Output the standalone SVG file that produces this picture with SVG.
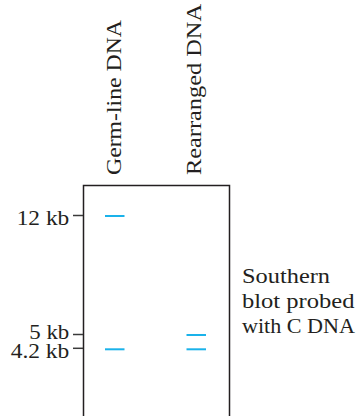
<svg xmlns="http://www.w3.org/2000/svg" width="361" height="416" viewBox="0 0 361 416">
<style>
text{font-family:"Liberation Serif","Times New Roman",serif;font-size:21px;fill:#231f20}
.band{stroke:#1ab2ea;stroke-width:2;fill:none}
.tick{stroke:#3a3a3a;stroke-width:1.5;fill:none}
</style>
<rect width="361" height="416" fill="#fff"/>
<g id="lane-labels">
<text transform="translate(121,175) rotate(-90)" style="font-size:20px" textLength="155" lengthAdjust="spacingAndGlyphs">Germ-line DNA</text>
<text transform="translate(201,175) rotate(-90)" style="font-size:20px" textLength="171" lengthAdjust="spacingAndGlyphs">Rearranged DNA</text>
</g>
<g id="blot">
<path d="M83.5,416 V185.5 H229.5 V416" fill="none" stroke="#231f20" stroke-width="1.5"/>
</g>
<g id="markers">
<text x="16.7" y="224.5" textLength="52.6" lengthAdjust="spacingAndGlyphs">12 kb</text>
<text x="29.3" y="339.3" textLength="40" lengthAdjust="spacingAndGlyphs">5 kb</text>
<text x="10.7" y="357.5" textLength="58.6" lengthAdjust="spacingAndGlyphs">4.2 kb</text>
</g>
<g id="connectors">
<line class="tick" x1="73" y1="215.5" x2="83" y2="215.5"/>
<line class="tick" x1="73" y1="334.5" x2="83" y2="334.5"/>
<line class="tick" x1="73" y1="348.3" x2="83" y2="348.3"/>
</g>
<g id="bands">
<line class="band" x1="105" y1="216" x2="124.5" y2="216"/>
<line class="band" x1="105" y1="349.3" x2="124.5" y2="349.3"/>
<line class="band" x1="186.5" y1="335" x2="206" y2="335"/>
<line class="band" x1="186.5" y1="349.3" x2="206" y2="349.3"/>
</g>
<g id="caption">
<text x="242" y="282.5" textLength="88" lengthAdjust="spacingAndGlyphs">Southern</text>
<text x="242" y="308" textLength="112.5" lengthAdjust="spacingAndGlyphs">blot probed</text>
<text x="242" y="333" textLength="113" lengthAdjust="spacingAndGlyphs">with C DNA</text>
</g>
</svg>
